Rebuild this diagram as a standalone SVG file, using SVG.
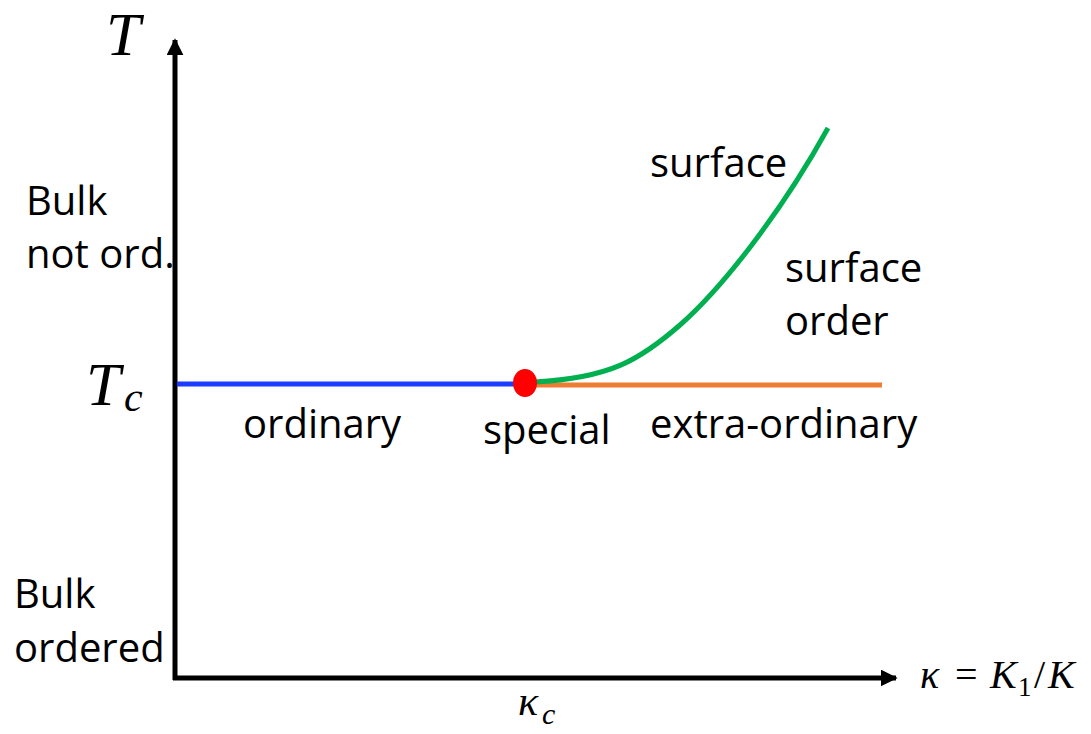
<svg xmlns="http://www.w3.org/2000/svg" width="1091" height="734" viewBox="0 0 1091 734">
<style>
.lbl{font-family:"Open Sans","Liberation Sans",sans-serif;font-size:40px;fill:#000}
.math{font-family:"Liberation Serif","DejaVu Serif",serif;font-style:italic;fill:#000}
.mathr{font-family:"Liberation Serif","DejaVu Serif",serif;font-style:normal;fill:#000}
.ax{stroke:#000;stroke-width:5;fill:none}
.ln{stroke-width:5;fill:none}
</style>
<defs>
<marker id="arr" viewBox="0 0 10 10" refX="9" refY="5" markerWidth="3.4" markerHeight="3.4" orient="auto" markerUnits="strokeWidth">
<path d="M0,0 L10,5 L0,10 Z" fill="#000"/>
</marker>
</defs>
<rect width="1091" height="734" fill="#fff"/>
<g id="connectors">
<line class="ax" x1="175" y1="680" x2="175" y2="40" marker-end="url(#arr)"/>
<line class="ax" x1="173" y1="678" x2="896" y2="678" marker-end="url(#arr)"/>
<line class="ln" x1="177" y1="384" x2="518" y2="384" stroke="#1a3cff"/>
<line class="ln" x1="530" y1="385" x2="882" y2="385" stroke="#ed7d31"/>
<path class="ln" d="M535,382 C610,378 640,360 680,325 S780,215 828,128" stroke="#00b050"/>
</g>
<g id="special-point">
<ellipse cx="525" cy="383" rx="12" ry="14" fill="#ff0000"/>
</g>
<g id="axis-labels">
<text class="math" x="106" y="55" font-size="62">T</text>
<text class="math" x="86" y="405" font-size="62">T</text>
<text class="math" x="124" y="411" font-size="42">c</text>
<text class="math" x="920" y="688" font-size="40">κ</text>
<text class="mathr" x="955" y="688" font-size="40">=</text>
<text class="math" x="990" y="688" font-size="40">K</text>
<text class="mathr" x="1018" y="696" font-size="27">1</text>
<text class="mathr" x="1034" y="688" font-size="40">/</text>
<text class="math" x="1048" y="688" font-size="40">K</text>
<text class="math" x="518" y="715" font-size="42">κ</text>
<text class="math" x="542" y="724" font-size="30">c</text>
</g>
<g id="region-labels">
<text class="lbl" x="26" y="215">Bulk</text>
<text class="lbl" x="26" y="268">not ord.</text>
<text class="lbl" x="14" y="608">Bulk</text>
<text class="lbl" x="14" y="662">ordered</text>
<text class="lbl" x="650" y="177">surface</text>
<text class="lbl" x="785" y="282">surface</text>
<text class="lbl" x="785" y="335">order</text>
<text class="lbl" x="243" y="438">ordinary</text>
<text class="lbl" x="483" y="444">special</text>
<text class="lbl" x="650" y="438">extra-ordinary</text>
</g>
</svg>
